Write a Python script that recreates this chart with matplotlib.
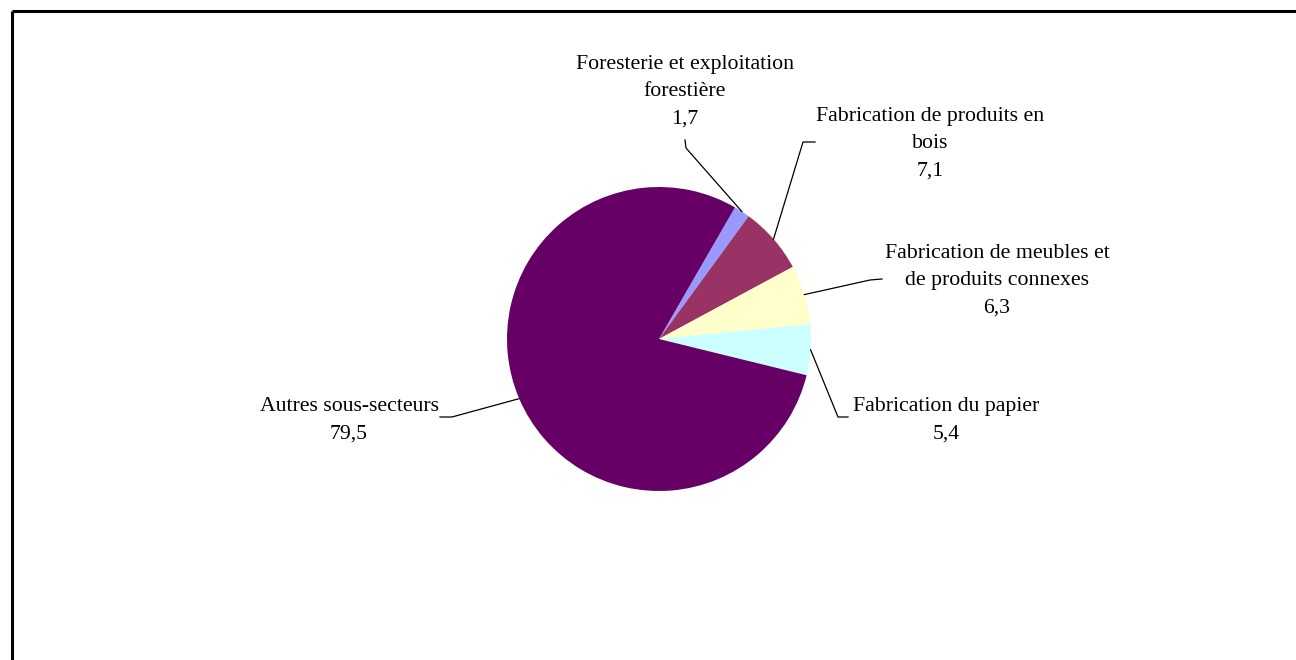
import numpy as np
import matplotlib
matplotlib.use("Agg")
from matplotlib import pyplot as plt

# data
labels = ["Foresterie et exploitation\nforestière",
          "Fabrication de produits en\nbois",
          "Fabrication de meubles et\nde produits connexes",
          "Fabrication du papier",
          "Autres sous-secteurs"]
values = [1.7, 7.1, 6.3, 5.4, 79.5]
valueText = ["1,7", "7,1", "6,3", "5,4", "79,5"]
colors = ["#9999FF", "#993366", "#FFFFCC", "#CCFFFF", "#660066"]

# layout (pixels, y measured from top)
W, H = 1296, 660
cx, cy, R = 659, 339, 152
# label centre, elbow start, elbow end
textPos = [(685, 92), (930, 144), (997, 281), (946, 420), (349, 420)]
elbows = [((685, 140), (686, 148)),
          ((815, 142), (803, 142)),
          ((882, 279), (870, 280)),
          ((848, 417), (838, 417)),
          ((440, 417), (452, 417))]

plt.rcParams['font.family'] = ['Liberation Serif', 'DejaVu Serif']

fig = plt.figure(figsize=(W/100., H/100.), dpi=100)
ax = fig.add_axes([0, 0, 1, 1])

wedges, _ = ax.pie(values, colors=colors, startangle=60, counterclock=False,
                   center=(cx, H-cy), radius=R, frame=True)
ax.set_xlim(0, W)
ax.set_ylim(0, H)
ax.axis('off')

for i, w in enumerate(wedges):
    ang = np.deg2rad((w.theta1 + w.theta2) / 2.)
    px = cx + R*np.cos(ang)
    py = (H-cy) + R*np.sin(ang)
    (x0, y0), (x1, y1) = elbows[i]
    ax.plot([x0, x1, px], [H-y0, H-y1, py], color='black', lw=0.9)
    tx, ty = textPos[i]
    ax.text(tx, H-ty, labels[i] + "\n" + valueText[i], ha='center', va='center',
            fontsize=15.7, linespacing=1.6)

# frame (top and left only)
ax.plot([12, W], [H-11, H-11], color='black', lw=2.2, solid_capstyle='butt')
ax.plot([12, 12], [H-11, 0], color='black', lw=2.2, solid_capstyle='butt')

plt.savefig("out.png", dpi=100)
